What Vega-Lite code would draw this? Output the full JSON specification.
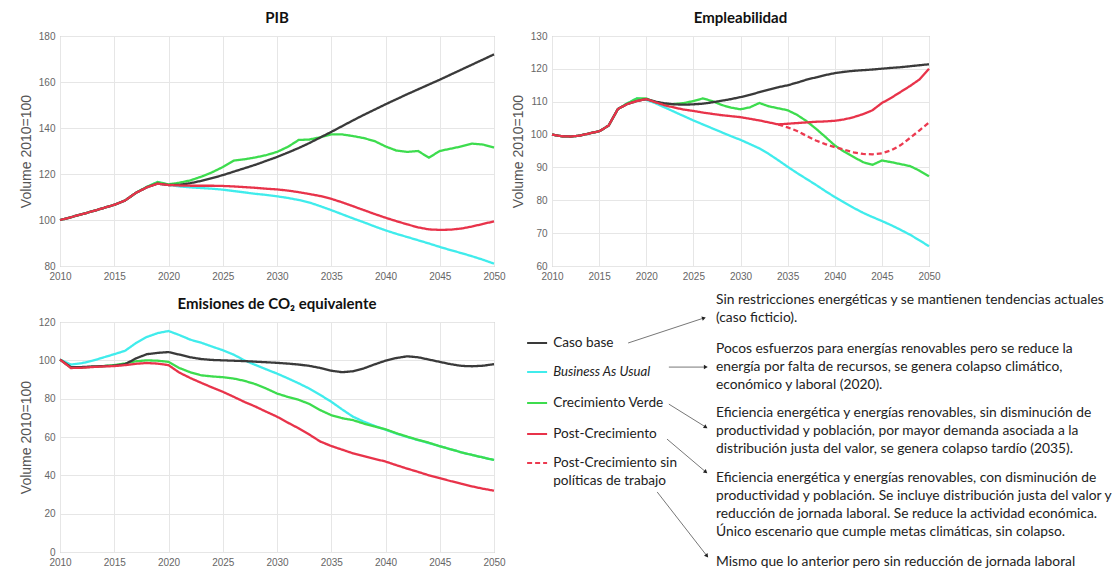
{
"$schema": "https://vega.github.io/schema/vega-lite/v6.json",
"autosize": {"type": "pad"},
"padding": {"left": 18, "top": 10, "right": 0, "bottom": 0},
"background": "white",
"config": {
  "view": {"stroke": "#a8a8a8"},
  "axis": {"grid": true, "gridColor": "#e6e6e6", "domain": false, "ticks": false, "labelFont": "Liberation Sans", "labelFontSize": 10, "labelColor": "#666", "titleFont": "Liberation Sans", "titleFontSize": 14, "titleFontWeight": "normal", "titleColor": "#555", "labelPadding": 5, "titlePadding": 5},
  "axisX": {"labelFlush": false},
  "title": {"font": "Lato", "fontSize": 15, "fontWeight": "bold", "color": "#111", "offset": 5}
},
"datasets": {
"pib": [
{"series":"Business As Usual","year":2010,"value":100},{"series":"Business As Usual","year":2011,"value":101.2},{"series":"Business As Usual","year":2012,"value":102.5},{"series":"Business As Usual","year":2013,"value":103.8},{"series":"Business As Usual","year":2014,"value":105.2},{"series":"Business As Usual","year":2015,"value":106.6},{"series":"Business As Usual","year":2016,"value":108.5},{"series":"Business As Usual","year":2017,"value":111.8},{"series":"Business As Usual","year":2018,"value":114.4},{"series":"Business As Usual","year":2019,"value":116.5},{"series":"Business As Usual","year":2020,"value":115.3},{"series":"Business As Usual","year":2021,"value":114.6},{"series":"Business As Usual","year":2022,"value":114.2},{"series":"Business As Usual","year":2023,"value":113.9},{"series":"Business As Usual","year":2024,"value":113.6},{"series":"Business As Usual","year":2025,"value":113.2},{"series":"Business As Usual","year":2026,"value":112.6},{"series":"Business As Usual","year":2027,"value":112.0},{"series":"Business As Usual","year":2028,"value":111.4},{"series":"Business As Usual","year":2029,"value":110.9},{"series":"Business As Usual","year":2030,"value":110.3},{"series":"Business As Usual","year":2031,"value":109.6},{"series":"Business As Usual","year":2032,"value":108.7},{"series":"Business As Usual","year":2033,"value":107.6},{"series":"Business As Usual","year":2034,"value":106.0},{"series":"Business As Usual","year":2035,"value":104.3},{"series":"Business As Usual","year":2036,"value":102.5},{"series":"Business As Usual","year":2037,"value":100.7},{"series":"Business As Usual","year":2038,"value":99.0},{"series":"Business As Usual","year":2039,"value":97.2},{"series":"Business As Usual","year":2040,"value":95.5},{"series":"Business As Usual","year":2041,"value":94.0},{"series":"Business As Usual","year":2042,"value":92.6},{"series":"Business As Usual","year":2043,"value":91.2},{"series":"Business As Usual","year":2044,"value":89.8},{"series":"Business As Usual","year":2045,"value":88.3},{"series":"Business As Usual","year":2046,"value":86.9},{"series":"Business As Usual","year":2047,"value":85.6},{"series":"Business As Usual","year":2048,"value":84.2},{"series":"Business As Usual","year":2049,"value":82.7},{"series":"Business As Usual","year":2050,"value":81.0},
{"series":"Crecimiento Verde","year":2010,"value":100},{"series":"Crecimiento Verde","year":2011,"value":101.2},{"series":"Crecimiento Verde","year":2012,"value":102.5},{"series":"Crecimiento Verde","year":2013,"value":103.8},{"series":"Crecimiento Verde","year":2014,"value":105.2},{"series":"Crecimiento Verde","year":2015,"value":106.6},{"series":"Crecimiento Verde","year":2016,"value":108.5},{"series":"Crecimiento Verde","year":2017,"value":111.8},{"series":"Crecimiento Verde","year":2018,"value":114.4},{"series":"Crecimiento Verde","year":2019,"value":116.5},{"series":"Crecimiento Verde","year":2020,"value":115.5},{"series":"Crecimiento Verde","year":2021,"value":116.2},{"series":"Crecimiento Verde","year":2022,"value":117.2},{"series":"Crecimiento Verde","year":2023,"value":118.8},{"series":"Crecimiento Verde","year":2024,"value":120.7},{"series":"Crecimiento Verde","year":2025,"value":123.0},{"series":"Crecimiento Verde","year":2026,"value":125.8},{"series":"Crecimiento Verde","year":2027,"value":126.4},{"series":"Crecimiento Verde","year":2028,"value":127.2},{"series":"Crecimiento Verde","year":2029,"value":128.2},{"series":"Crecimiento Verde","year":2030,"value":129.6},{"series":"Crecimiento Verde","year":2031,"value":131.8},{"series":"Crecimiento Verde","year":2032,"value":134.8},{"series":"Crecimiento Verde","year":2033,"value":135.0},{"series":"Crecimiento Verde","year":2034,"value":136.0},{"series":"Crecimiento Verde","year":2035,"value":137.2},{"series":"Crecimiento Verde","year":2036,"value":137.2},{"series":"Crecimiento Verde","year":2037,"value":136.5},{"series":"Crecimiento Verde","year":2038,"value":135.6},{"series":"Crecimiento Verde","year":2039,"value":134.3},{"series":"Crecimiento Verde","year":2040,"value":132.0},{"series":"Crecimiento Verde","year":2041,"value":130.2},{"series":"Crecimiento Verde","year":2042,"value":129.6},{"series":"Crecimiento Verde","year":2043,"value":130.0},{"series":"Crecimiento Verde","year":2044,"value":127.1},{"series":"Crecimiento Verde","year":2045,"value":130.0},{"series":"Crecimiento Verde","year":2046,"value":131.0},{"series":"Crecimiento Verde","year":2047,"value":132.0},{"series":"Crecimiento Verde","year":2048,"value":133.2},{"series":"Crecimiento Verde","year":2049,"value":132.8},{"series":"Crecimiento Verde","year":2050,"value":131.5},
{"series":"Caso base","year":2010,"value":100},{"series":"Caso base","year":2011,"value":101.2},{"series":"Caso base","year":2012,"value":102.5},{"series":"Caso base","year":2013,"value":103.8},{"series":"Caso base","year":2014,"value":105.2},{"series":"Caso base","year":2015,"value":106.6},{"series":"Caso base","year":2016,"value":108.5},{"series":"Caso base","year":2017,"value":111.8},{"series":"Caso base","year":2018,"value":114.2},{"series":"Caso base","year":2019,"value":115.8},{"series":"Caso base","year":2020,"value":115.2},{"series":"Caso base","year":2021,"value":115.3},{"series":"Caso base","year":2022,"value":116.0},{"series":"Caso base","year":2023,"value":117.0},{"series":"Caso base","year":2024,"value":118.2},{"series":"Caso base","year":2025,"value":119.5},{"series":"Caso base","year":2026,"value":121.0},{"series":"Caso base","year":2027,"value":122.5},{"series":"Caso base","year":2028,"value":124.0},{"series":"Caso base","year":2029,"value":125.7},{"series":"Caso base","year":2030,"value":127.4},{"series":"Caso base","year":2031,"value":129.3},{"series":"Caso base","year":2032,"value":131.3},{"series":"Caso base","year":2033,"value":133.5},{"series":"Caso base","year":2034,"value":135.9},{"series":"Caso base","year":2035,"value":138.3},{"series":"Caso base","year":2036,"value":140.8},{"series":"Caso base","year":2037,"value":143.3},{"series":"Caso base","year":2038,"value":145.7},{"series":"Caso base","year":2039,"value":148.0},{"series":"Caso base","year":2040,"value":150.3},{"series":"Caso base","year":2041,"value":152.5},{"series":"Caso base","year":2042,"value":154.7},{"series":"Caso base","year":2043,"value":156.8},{"series":"Caso base","year":2044,"value":158.9},{"series":"Caso base","year":2045,"value":161.0},{"series":"Caso base","year":2046,"value":163.2},{"series":"Caso base","year":2047,"value":165.4},{"series":"Caso base","year":2048,"value":167.6},{"series":"Caso base","year":2049,"value":169.8},{"series":"Caso base","year":2050,"value":172.0},
{"series":"Post-Crecimiento","year":2010,"value":100},{"series":"Post-Crecimiento","year":2011,"value":101.2},{"series":"Post-Crecimiento","year":2012,"value":102.5},{"series":"Post-Crecimiento","year":2013,"value":103.8},{"series":"Post-Crecimiento","year":2014,"value":105.2},{"series":"Post-Crecimiento","year":2015,"value":106.6},{"series":"Post-Crecimiento","year":2016,"value":108.5},{"series":"Post-Crecimiento","year":2017,"value":111.8},{"series":"Post-Crecimiento","year":2018,"value":114.2},{"series":"Post-Crecimiento","year":2019,"value":115.8},{"series":"Post-Crecimiento","year":2020,"value":115.2},{"series":"Post-Crecimiento","year":2021,"value":115.0},{"series":"Post-Crecimiento","year":2022,"value":114.9},{"series":"Post-Crecimiento","year":2023,"value":114.9},{"series":"Post-Crecimiento","year":2024,"value":114.9},{"series":"Post-Crecimiento","year":2025,"value":114.8},{"series":"Post-Crecimiento","year":2026,"value":114.6},{"series":"Post-Crecimiento","year":2027,"value":114.3},{"series":"Post-Crecimiento","year":2028,"value":114.0},{"series":"Post-Crecimiento","year":2029,"value":113.6},{"series":"Post-Crecimiento","year":2030,"value":113.3},{"series":"Post-Crecimiento","year":2031,"value":112.8},{"series":"Post-Crecimiento","year":2032,"value":112.1},{"series":"Post-Crecimiento","year":2033,"value":111.3},{"series":"Post-Crecimiento","year":2034,"value":110.4},{"series":"Post-Crecimiento","year":2035,"value":109.2},{"series":"Post-Crecimiento","year":2036,"value":107.7},{"series":"Post-Crecimiento","year":2037,"value":106.0},{"series":"Post-Crecimiento","year":2038,"value":104.3},{"series":"Post-Crecimiento","year":2039,"value":102.6},{"series":"Post-Crecimiento","year":2040,"value":101.0},{"series":"Post-Crecimiento","year":2041,"value":99.5},{"series":"Post-Crecimiento","year":2042,"value":98.1},{"series":"Post-Crecimiento","year":2043,"value":96.8},{"series":"Post-Crecimiento","year":2044,"value":95.9},{"series":"Post-Crecimiento","year":2045,"value":95.7},{"series":"Post-Crecimiento","year":2046,"value":95.8},{"series":"Post-Crecimiento","year":2047,"value":96.3},{"series":"Post-Crecimiento","year":2048,"value":97.2},{"series":"Post-Crecimiento","year":2049,"value":98.3},{"series":"Post-Crecimiento","year":2050,"value":99.4}
],
"emp": [
{"series":"Business As Usual","year":2010,"value":100},{"series":"Business As Usual","year":2011,"value":99.5},{"series":"Business As Usual","year":2012,"value":99.4},{"series":"Business As Usual","year":2013,"value":99.7},{"series":"Business As Usual","year":2014,"value":100.4},{"series":"Business As Usual","year":2015,"value":101.0},{"series":"Business As Usual","year":2016,"value":102.7},{"series":"Business As Usual","year":2017,"value":107.8},{"series":"Business As Usual","year":2018,"value":109.5},{"series":"Business As Usual","year":2019,"value":111.0},{"series":"Business As Usual","year":2020,"value":110.6},{"series":"Business As Usual","year":2021,"value":109.5},{"series":"Business As Usual","year":2022,"value":108.2},{"series":"Business As Usual","year":2023,"value":106.9},{"series":"Business As Usual","year":2024,"value":105.6},{"series":"Business As Usual","year":2025,"value":104.3},{"series":"Business As Usual","year":2026,"value":103.1},{"series":"Business As Usual","year":2027,"value":101.9},{"series":"Business As Usual","year":2028,"value":100.7},{"series":"Business As Usual","year":2029,"value":99.5},{"series":"Business As Usual","year":2030,"value":98.4},{"series":"Business As Usual","year":2031,"value":97.1},{"series":"Business As Usual","year":2032,"value":95.8},{"series":"Business As Usual","year":2033,"value":94.1},{"series":"Business As Usual","year":2034,"value":92.2},{"series":"Business As Usual","year":2035,"value":90.2},{"series":"Business As Usual","year":2036,"value":88.3},{"series":"Business As Usual","year":2037,"value":86.5},{"series":"Business As Usual","year":2038,"value":84.7},{"series":"Business As Usual","year":2039,"value":82.8},{"series":"Business As Usual","year":2040,"value":81.0},{"series":"Business As Usual","year":2041,"value":79.3},{"series":"Business As Usual","year":2042,"value":77.7},{"series":"Business As Usual","year":2043,"value":76.2},{"series":"Business As Usual","year":2044,"value":74.9},{"series":"Business As Usual","year":2045,"value":73.7},{"series":"Business As Usual","year":2046,"value":72.4},{"series":"Business As Usual","year":2047,"value":71.0},{"series":"Business As Usual","year":2048,"value":69.5},{"series":"Business As Usual","year":2049,"value":67.8},{"series":"Business As Usual","year":2050,"value":66.0},
{"series":"Crecimiento Verde","year":2010,"value":100},{"series":"Crecimiento Verde","year":2011,"value":99.5},{"series":"Crecimiento Verde","year":2012,"value":99.4},{"series":"Crecimiento Verde","year":2013,"value":99.7},{"series":"Crecimiento Verde","year":2014,"value":100.4},{"series":"Crecimiento Verde","year":2015,"value":101.0},{"series":"Crecimiento Verde","year":2016,"value":102.7},{"series":"Crecimiento Verde","year":2017,"value":107.8},{"series":"Crecimiento Verde","year":2018,"value":109.5},{"series":"Crecimiento Verde","year":2019,"value":111.0},{"series":"Crecimiento Verde","year":2020,"value":111.0},{"series":"Crecimiento Verde","year":2021,"value":109.8},{"series":"Crecimiento Verde","year":2022,"value":109.2},{"series":"Crecimiento Verde","year":2023,"value":109.3},{"series":"Crecimiento Verde","year":2024,"value":109.6},{"series":"Crecimiento Verde","year":2025,"value":110.2},{"series":"Crecimiento Verde","year":2026,"value":111.0},{"series":"Crecimiento Verde","year":2027,"value":110.2},{"series":"Crecimiento Verde","year":2028,"value":109.0},{"series":"Crecimiento Verde","year":2029,"value":108.2},{"series":"Crecimiento Verde","year":2030,"value":107.7},{"series":"Crecimiento Verde","year":2031,"value":108.3},{"series":"Crecimiento Verde","year":2032,"value":109.6},{"series":"Crecimiento Verde","year":2033,"value":108.6},{"series":"Crecimiento Verde","year":2034,"value":108.0},{"series":"Crecimiento Verde","year":2035,"value":107.4},{"series":"Crecimiento Verde","year":2036,"value":106.0},{"series":"Crecimiento Verde","year":2037,"value":104.1},{"series":"Crecimiento Verde","year":2038,"value":101.8},{"series":"Crecimiento Verde","year":2039,"value":99.3},{"series":"Crecimiento Verde","year":2040,"value":96.7},{"series":"Crecimiento Verde","year":2041,"value":94.8},{"series":"Crecimiento Verde","year":2042,"value":93.2},{"series":"Crecimiento Verde","year":2043,"value":91.6},{"series":"Crecimiento Verde","year":2044,"value":90.8},{"series":"Crecimiento Verde","year":2045,"value":92.1},{"series":"Crecimiento Verde","year":2046,"value":91.6},{"series":"Crecimiento Verde","year":2047,"value":91.0},{"series":"Crecimiento Verde","year":2048,"value":90.4},{"series":"Crecimiento Verde","year":2049,"value":89.0},{"series":"Crecimiento Verde","year":2050,"value":87.3},
{"series":"Caso base","year":2010,"value":100},{"series":"Caso base","year":2011,"value":99.5},{"series":"Caso base","year":2012,"value":99.4},{"series":"Caso base","year":2013,"value":99.7},{"series":"Caso base","year":2014,"value":100.4},{"series":"Caso base","year":2015,"value":101.0},{"series":"Caso base","year":2016,"value":102.7},{"series":"Caso base","year":2017,"value":107.8},{"series":"Caso base","year":2018,"value":109.3},{"series":"Caso base","year":2019,"value":110.2},{"series":"Caso base","year":2020,"value":110.8},{"series":"Caso base","year":2021,"value":110.0},{"series":"Caso base","year":2022,"value":109.5},{"series":"Caso base","year":2023,"value":109.2},{"series":"Caso base","year":2024,"value":109.1},{"series":"Caso base","year":2025,"value":109.2},{"series":"Caso base","year":2026,"value":109.4},{"series":"Caso base","year":2027,"value":109.8},{"series":"Caso base","year":2028,"value":110.3},{"series":"Caso base","year":2029,"value":110.8},{"series":"Caso base","year":2030,"value":111.4},{"series":"Caso base","year":2031,"value":112.1},{"series":"Caso base","year":2032,"value":112.9},{"series":"Caso base","year":2033,"value":113.7},{"series":"Caso base","year":2034,"value":114.4},{"series":"Caso base","year":2035,"value":115.0},{"series":"Caso base","year":2036,"value":115.8},{"series":"Caso base","year":2037,"value":116.7},{"series":"Caso base","year":2038,"value":117.4},{"series":"Caso base","year":2039,"value":118.1},{"series":"Caso base","year":2040,"value":118.7},{"series":"Caso base","year":2041,"value":119.1},{"series":"Caso base","year":2042,"value":119.4},{"series":"Caso base","year":2043,"value":119.6},{"series":"Caso base","year":2044,"value":119.8},{"series":"Caso base","year":2045,"value":120.05},{"series":"Caso base","year":2046,"value":120.3},{"series":"Caso base","year":2047,"value":120.5},{"series":"Caso base","year":2048,"value":120.8},{"series":"Caso base","year":2049,"value":121.1},{"series":"Caso base","year":2050,"value":121.4},
{"series":"Post-Crecimiento sin políticas","year":2034,"value":103.1},{"series":"Post-Crecimiento sin políticas","year":2035,"value":102.2},{"series":"Post-Crecimiento sin políticas","year":2036,"value":101.1},{"series":"Post-Crecimiento sin políticas","year":2037,"value":99.6},{"series":"Post-Crecimiento sin políticas","year":2038,"value":98.2},{"series":"Post-Crecimiento sin políticas","year":2039,"value":97.1},{"series":"Post-Crecimiento sin políticas","year":2040,"value":96.2},{"series":"Post-Crecimiento sin políticas","year":2041,"value":95.4},{"series":"Post-Crecimiento sin políticas","year":2042,"value":94.6},{"series":"Post-Crecimiento sin políticas","year":2043,"value":94.1},{"series":"Post-Crecimiento sin políticas","year":2044,"value":94.0},{"series":"Post-Crecimiento sin políticas","year":2045,"value":94.3},{"series":"Post-Crecimiento sin políticas","year":2046,"value":95.2},{"series":"Post-Crecimiento sin políticas","year":2047,"value":96.8},{"series":"Post-Crecimiento sin políticas","year":2048,"value":99.0},{"series":"Post-Crecimiento sin políticas","year":2049,"value":101.3},{"series":"Post-Crecimiento sin políticas","year":2050,"value":103.7},
{"series":"Post-Crecimiento","year":2010,"value":100},{"series":"Post-Crecimiento","year":2011,"value":99.5},{"series":"Post-Crecimiento","year":2012,"value":99.4},{"series":"Post-Crecimiento","year":2013,"value":99.7},{"series":"Post-Crecimiento","year":2014,"value":100.4},{"series":"Post-Crecimiento","year":2015,"value":101.0},{"series":"Post-Crecimiento","year":2016,"value":102.7},{"series":"Post-Crecimiento","year":2017,"value":107.8},{"series":"Post-Crecimiento","year":2018,"value":109.3},{"series":"Post-Crecimiento","year":2019,"value":110.2},{"series":"Post-Crecimiento","year":2020,"value":110.8},{"series":"Post-Crecimiento","year":2021,"value":109.8},{"series":"Post-Crecimiento","year":2022,"value":108.9},{"series":"Post-Crecimiento","year":2023,"value":108.2},{"series":"Post-Crecimiento","year":2024,"value":107.6},{"series":"Post-Crecimiento","year":2025,"value":107.2},{"series":"Post-Crecimiento","year":2026,"value":106.7},{"series":"Post-Crecimiento","year":2027,"value":106.3},{"series":"Post-Crecimiento","year":2028,"value":105.9},{"series":"Post-Crecimiento","year":2029,"value":105.6},{"series":"Post-Crecimiento","year":2030,"value":105.3},{"series":"Post-Crecimiento","year":2031,"value":104.8},{"series":"Post-Crecimiento","year":2032,"value":104.3},{"series":"Post-Crecimiento","year":2033,"value":103.7},{"series":"Post-Crecimiento","year":2034,"value":103.1},{"series":"Post-Crecimiento","year":2035,"value":103.3},{"series":"Post-Crecimiento","year":2036,"value":103.5},{"series":"Post-Crecimiento","year":2037,"value":103.7},{"series":"Post-Crecimiento","year":2038,"value":103.9},{"series":"Post-Crecimiento","year":2039,"value":104.0},{"series":"Post-Crecimiento","year":2040,"value":104.2},{"series":"Post-Crecimiento","year":2041,"value":104.6},{"series":"Post-Crecimiento","year":2042,"value":105.3},{"series":"Post-Crecimiento","year":2043,"value":106.2},{"series":"Post-Crecimiento","year":2044,"value":107.4},{"series":"Post-Crecimiento","year":2045,"value":109.6},{"series":"Post-Crecimiento","year":2046,"value":111.2},{"series":"Post-Crecimiento","year":2047,"value":113.0},{"series":"Post-Crecimiento","year":2048,"value":114.8},{"series":"Post-Crecimiento","year":2049,"value":116.8},{"series":"Post-Crecimiento","year":2050,"value":120.0}
],
"co2": [
{"series":"Business As Usual","year":2010,"value":100.4},{"series":"Business As Usual","year":2011,"value":97.8},{"series":"Business As Usual","year":2012,"value":98.5},{"series":"Business As Usual","year":2013,"value":99.8},{"series":"Business As Usual","year":2014,"value":101.5},{"series":"Business As Usual","year":2015,"value":103.2},{"series":"Business As Usual","year":2016,"value":105.0},{"series":"Business As Usual","year":2017,"value":109.0},{"series":"Business As Usual","year":2018,"value":112.2},{"series":"Business As Usual","year":2019,"value":114.2},{"series":"Business As Usual","year":2020,"value":115.3},{"series":"Business As Usual","year":2021,"value":113.2},{"series":"Business As Usual","year":2022,"value":110.8},{"series":"Business As Usual","year":2023,"value":109.2},{"series":"Business As Usual","year":2024,"value":107.2},{"series":"Business As Usual","year":2025,"value":105.3},{"series":"Business As Usual","year":2026,"value":103.0},{"series":"Business As Usual","year":2027,"value":100.0},{"series":"Business As Usual","year":2028,"value":97.6},{"series":"Business As Usual","year":2029,"value":95.3},{"series":"Business As Usual","year":2030,"value":93.1},{"series":"Business As Usual","year":2031,"value":90.6},{"series":"Business As Usual","year":2032,"value":88.0},{"series":"Business As Usual","year":2033,"value":85.2},{"series":"Business As Usual","year":2034,"value":81.9},{"series":"Business As Usual","year":2035,"value":78.4},{"series":"Business As Usual","year":2036,"value":74.4},{"series":"Business As Usual","year":2037,"value":70.6},{"series":"Business As Usual","year":2038,"value":68.0},{"series":"Business As Usual","year":2039,"value":65.8},{"series":"Business As Usual","year":2040,"value":63.8},{"series":"Business As Usual","year":2041,"value":61.8},{"series":"Business As Usual","year":2042,"value":60.0},{"series":"Business As Usual","year":2043,"value":58.4},{"series":"Business As Usual","year":2044,"value":56.8},{"series":"Business As Usual","year":2045,"value":55.2},{"series":"Business As Usual","year":2046,"value":53.6},{"series":"Business As Usual","year":2047,"value":52.0},{"series":"Business As Usual","year":2048,"value":50.6},{"series":"Business As Usual","year":2049,"value":49.3},{"series":"Business As Usual","year":2050,"value":48.0},
{"series":"Crecimiento Verde","year":2010,"value":100.4},{"series":"Crecimiento Verde","year":2011,"value":96.2},{"series":"Crecimiento Verde","year":2012,"value":96.3},{"series":"Crecimiento Verde","year":2013,"value":96.6},{"series":"Crecimiento Verde","year":2014,"value":97.0},{"series":"Crecimiento Verde","year":2015,"value":97.5},{"series":"Crecimiento Verde","year":2016,"value":98.4},{"series":"Crecimiento Verde","year":2017,"value":99.5},{"series":"Crecimiento Verde","year":2018,"value":100.0},{"series":"Crecimiento Verde","year":2019,"value":99.8},{"series":"Crecimiento Verde","year":2020,"value":99.2},{"series":"Crecimiento Verde","year":2021,"value":96.0},{"series":"Crecimiento Verde","year":2022,"value":93.8},{"series":"Crecimiento Verde","year":2023,"value":92.2},{"series":"Crecimiento Verde","year":2024,"value":91.6},{"series":"Crecimiento Verde","year":2025,"value":91.2},{"series":"Crecimiento Verde","year":2026,"value":90.5},{"series":"Crecimiento Verde","year":2027,"value":89.3},{"series":"Crecimiento Verde","year":2028,"value":87.6},{"series":"Crecimiento Verde","year":2029,"value":85.3},{"series":"Crecimiento Verde","year":2030,"value":82.7},{"series":"Crecimiento Verde","year":2031,"value":80.9},{"series":"Crecimiento Verde","year":2032,"value":79.4},{"series":"Crecimiento Verde","year":2033,"value":77.2},{"series":"Crecimiento Verde","year":2034,"value":74.0},{"series":"Crecimiento Verde","year":2035,"value":71.4},{"series":"Crecimiento Verde","year":2036,"value":69.8},{"series":"Crecimiento Verde","year":2037,"value":68.8},{"series":"Crecimiento Verde","year":2038,"value":67.0},{"series":"Crecimiento Verde","year":2039,"value":65.5},{"series":"Crecimiento Verde","year":2040,"value":64.0},{"series":"Crecimiento Verde","year":2041,"value":62.0},{"series":"Crecimiento Verde","year":2042,"value":60.2},{"series":"Crecimiento Verde","year":2043,"value":58.5},{"series":"Crecimiento Verde","year":2044,"value":57.0},{"series":"Crecimiento Verde","year":2045,"value":55.2},{"series":"Crecimiento Verde","year":2046,"value":53.6},{"series":"Crecimiento Verde","year":2047,"value":52.0},{"series":"Crecimiento Verde","year":2048,"value":50.6},{"series":"Crecimiento Verde","year":2049,"value":49.3},{"series":"Crecimiento Verde","year":2050,"value":48.0},
{"series":"Caso base","year":2010,"value":100.4},{"series":"Caso base","year":2011,"value":96.5},{"series":"Caso base","year":2012,"value":96.5},{"series":"Caso base","year":2013,"value":96.8},{"series":"Caso base","year":2014,"value":97.0},{"series":"Caso base","year":2015,"value":97.2},{"series":"Caso base","year":2016,"value":98.0},{"series":"Caso base","year":2017,"value":101.0},{"series":"Caso base","year":2018,"value":103.2},{"series":"Caso base","year":2019,"value":103.9},{"series":"Caso base","year":2020,"value":104.3},{"series":"Caso base","year":2021,"value":103.0},{"series":"Caso base","year":2022,"value":101.6},{"series":"Caso base","year":2023,"value":100.7},{"series":"Caso base","year":2024,"value":100.2},{"series":"Caso base","year":2025,"value":100.0},{"series":"Caso base","year":2026,"value":99.8},{"series":"Caso base","year":2027,"value":99.6},{"series":"Caso base","year":2028,"value":99.3},{"series":"Caso base","year":2029,"value":99.0},{"series":"Caso base","year":2030,"value":98.7},{"series":"Caso base","year":2031,"value":98.3},{"series":"Caso base","year":2032,"value":97.8},{"series":"Caso base","year":2033,"value":97.1},{"series":"Caso base","year":2034,"value":96.0},{"series":"Caso base","year":2035,"value":94.6},{"series":"Caso base","year":2036,"value":93.8},{"series":"Caso base","year":2037,"value":94.3},{"series":"Caso base","year":2038,"value":95.8},{"series":"Caso base","year":2039,"value":97.9},{"series":"Caso base","year":2040,"value":99.8},{"series":"Caso base","year":2041,"value":101.2},{"series":"Caso base","year":2042,"value":102.1},{"series":"Caso base","year":2043,"value":101.6},{"series":"Caso base","year":2044,"value":100.4},{"series":"Caso base","year":2045,"value":99.2},{"series":"Caso base","year":2046,"value":98.0},{"series":"Caso base","year":2047,"value":97.1},{"series":"Caso base","year":2048,"value":96.9},{"series":"Caso base","year":2049,"value":97.2},{"series":"Caso base","year":2050,"value":98.0},
{"series":"Post-Crecimiento","year":2010,"value":100.4},{"series":"Post-Crecimiento","year":2011,"value":96.0},{"series":"Post-Crecimiento","year":2012,"value":96.1},{"series":"Post-Crecimiento","year":2013,"value":96.5},{"series":"Post-Crecimiento","year":2014,"value":96.8},{"series":"Post-Crecimiento","year":2015,"value":97.0},{"series":"Post-Crecimiento","year":2016,"value":97.5},{"series":"Post-Crecimiento","year":2017,"value":98.2},{"series":"Post-Crecimiento","year":2018,"value":98.6},{"series":"Post-Crecimiento","year":2019,"value":98.3},{"series":"Post-Crecimiento","year":2020,"value":97.5},{"series":"Post-Crecimiento","year":2021,"value":93.6},{"series":"Post-Crecimiento","year":2022,"value":90.8},{"series":"Post-Crecimiento","year":2023,"value":88.3},{"series":"Post-Crecimiento","year":2024,"value":85.9},{"series":"Post-Crecimiento","year":2025,"value":83.6},{"series":"Post-Crecimiento","year":2026,"value":81.0},{"series":"Post-Crecimiento","year":2027,"value":78.3},{"series":"Post-Crecimiento","year":2028,"value":75.9},{"series":"Post-Crecimiento","year":2029,"value":73.2},{"series":"Post-Crecimiento","year":2030,"value":70.6},{"series":"Post-Crecimiento","year":2031,"value":67.5},{"series":"Post-Crecimiento","year":2032,"value":64.5},{"series":"Post-Crecimiento","year":2033,"value":61.2},{"series":"Post-Crecimiento","year":2034,"value":57.6},{"series":"Post-Crecimiento","year":2035,"value":55.3},{"series":"Post-Crecimiento","year":2036,"value":53.4},{"series":"Post-Crecimiento","year":2037,"value":51.5},{"series":"Post-Crecimiento","year":2038,"value":50.0},{"series":"Post-Crecimiento","year":2039,"value":48.6},{"series":"Post-Crecimiento","year":2040,"value":47.2},{"series":"Post-Crecimiento","year":2041,"value":45.3},{"series":"Post-Crecimiento","year":2042,"value":43.5},{"series":"Post-Crecimiento","year":2043,"value":41.8},{"series":"Post-Crecimiento","year":2044,"value":40.0},{"series":"Post-Crecimiento","year":2045,"value":38.5},{"series":"Post-Crecimiento","year":2046,"value":37.0},{"series":"Post-Crecimiento","year":2047,"value":35.6},{"series":"Post-Crecimiento","year":2048,"value":34.2},{"series":"Post-Crecimiento","year":2049,"value":33.0},{"series":"Post-Crecimiento","year":2050,"value":32.0}
]
},
"concat": [
{
  "width": 434, "height": 230,
  "title": "PIB",
  "data": {"name": "pib"},
  "mark": {"type": "line"},
  "encoding": {
    "x": {"field": "year", "type": "quantitative", "scale": {"domain": [2010, 2050], "nice": false, "zero": false}, "axis": {"values": [2010,2015,2020,2025,2030,2035,2040,2045,2050], "format": "d", "title": null}},
    "y": {"field": "value", "type": "quantitative", "scale": {"domain": [80, 180], "nice": false, "zero": false}, "axis": {"values": [80,100,120,140,160,180], "title": "Volume 2010=100"}},
    "color": {"field": "series", "type": "nominal", "legend": null, "scale": {"domain": ["Business As Usual","Crecimiento Verde","Caso base","Post-Crecimiento sin políticas","Post-Crecimiento"], "range": ["#40ecec","#3ddc4e","#3a3a3a","#ec3a50","#e8334a"]}},
    "strokeDash": {"field": "series", "type": "nominal", "legend": null, "scale": {"domain": ["Business As Usual","Crecimiento Verde","Caso base","Post-Crecimiento sin políticas","Post-Crecimiento"], "range": [[1,0],[1,0],[1,0],[5,3],[1,0]]}},
    "strokeWidth": {"field": "series", "type": "nominal", "legend": null, "scale": {"domain": ["Business As Usual","Crecimiento Verde","Caso base","Post-Crecimiento sin políticas","Post-Crecimiento"], "range": [2.3,2.3,1.5,1.8,1.8]}}
  }
},
{
  "width": 377, "height": 230,
  "title": "Empleabilidad",
  "data": {"name": "emp"},
  "mark": {"type": "line"},
  "encoding": {
    "x": {"field": "year", "type": "quantitative", "scale": {"domain": [2010, 2050], "nice": false, "zero": false}, "axis": {"values": [2010,2015,2020,2025,2030,2035,2040,2045,2050], "format": "d", "title": null}},
    "y": {"field": "value", "type": "quantitative", "scale": {"domain": [60, 130], "nice": false, "zero": false}, "axis": {"values": [60,70,80,90,100,110,120,130], "title": "Volume 2010=100"}},
    "color": {"field": "series", "type": "nominal", "legend": null, "scale": {"domain": ["Business As Usual","Crecimiento Verde","Caso base","Post-Crecimiento sin políticas","Post-Crecimiento"], "range": ["#40ecec","#3ddc4e","#3a3a3a","#ec3a50","#e8334a"]}},
    "strokeDash": {"field": "series", "type": "nominal", "legend": null, "scale": {"domain": ["Business As Usual","Crecimiento Verde","Caso base","Post-Crecimiento sin políticas","Post-Crecimiento"], "range": [[1,0],[1,0],[1,0],[5,3],[1,0]]}},
    "strokeWidth": {"field": "series", "type": "nominal", "legend": null, "scale": {"domain": ["Business As Usual","Crecimiento Verde","Caso base","Post-Crecimiento sin políticas","Post-Crecimiento"], "range": [2.3,2.3,1.5,1.8,1.8]}}
  }
},
{
  "width": 434, "height": 230,
  "title": "Emisiones de CO₂ equivalente",
  "data": {"name": "co2"},
  "mark": {"type": "line"},
  "encoding": {
    "x": {"field": "year", "type": "quantitative", "scale": {"domain": [2010, 2050], "nice": false, "zero": false}, "axis": {"values": [2010,2015,2020,2025,2030,2035,2040,2045,2050], "format": "d", "title": null}},
    "y": {"field": "value", "type": "quantitative", "scale": {"domain": [0, 120], "nice": false}, "axis": {"values": [0,20,40,60,80,100,120], "title": "Volume 2010=100"}},
    "color": {"field": "series", "type": "nominal", "legend": null, "scale": {"domain": ["Business As Usual","Crecimiento Verde","Caso base","Post-Crecimiento sin políticas","Post-Crecimiento"], "range": ["#40ecec","#3ddc4e","#3a3a3a","#ec3a50","#e8334a"]}},
    "strokeDash": {"field": "series", "type": "nominal", "legend": null, "scale": {"domain": ["Business As Usual","Crecimiento Verde","Caso base","Post-Crecimiento sin políticas","Post-Crecimiento"], "range": [[1,0],[1,0],[1,0],[5,3],[1,0]]}},
    "strokeWidth": {"field": "series", "type": "nominal", "legend": null, "scale": {"domain": ["Business As Usual","Crecimiento Verde","Caso base","Post-Crecimiento sin políticas","Post-Crecimiento"], "range": [2.3,2.3,1.5,1.8,1.8]}}
  }
},
{
  "width": 377, "height": 230,
  "view": {"stroke": null},
  "layer": [
    {
      "data": {"values": [
        {"series": "Caso base", "x": -6.6, "x2": -1.3, "y": 9.13},
        {"series": "Business As Usual", "x": -6.6, "x2": -1.3, "y": 21.7},
        {"series": "Crecimiento Verde", "x": -6.6, "x2": -1.3, "y": 35.2},
        {"series": "Post-Crecimiento", "x": -6.6, "x2": -1.3, "y": 48.7},
        {"series": "Post-Crecimiento sin políticas", "x": -6.6, "x2": -1.3, "y": 61.3}
      ]},
      "mark": {"type": "rule"},
      "encoding": {
        "x": {"field": "x", "type": "quantitative", "scale": {"domain": [0, 100]}, "axis": null},
        "x2": {"field": "x2"},
        "y": {"field": "y", "type": "quantitative", "scale": {"domain": [0, 100], "reverse": true}, "axis": null},
        "color": {"field": "series", "type": "nominal", "legend": null, "scale": {"domain": ["Business As Usual","Crecimiento Verde","Caso base","Post-Crecimiento sin políticas","Post-Crecimiento"], "range": ["#40ecec","#3ddc4e","#3a3a3a","#ec3a50","#e8334a"]}},
        "strokeDash": {"field": "series", "type": "nominal", "legend": null, "scale": {"domain": ["Business As Usual","Crecimiento Verde","Caso base","Post-Crecimiento sin políticas","Post-Crecimiento"], "range": [[1,0],[1,0],[1,0],[4,2.5],[1,0]]}},
        "strokeWidth": {"value": 2}
      }
    },
    {
      "data": {"values": [
        {"label": "Caso base", "x": 0.3, "y": 9.13},
        {"label": "Crecimiento Verde", "x": 0.3, "y": 35.2},
        {"label": "Post-Crecimiento", "x": 0.3, "y": 48.7},
        {"label": "Post-Crecimiento sin", "x": 0.3, "y": 61.3},
        {"label": "políticas de trabajo", "x": 0.3, "y": 69.1}
      ]},
      "mark": {"type": "text", "align": "left", "baseline": "middle", "font": "Lato", "fontSize": 13.6, "color": "#222"},
      "encoding": {
        "x": {"field": "x", "type": "quantitative", "scale": {"domain": [0, 100]}, "axis": null},
        "y": {"field": "y", "type": "quantitative", "scale": {"domain": [0, 100], "reverse": true}, "axis": null},
        "text": {"field": "label"}
      }
    },
    {
      "data": {"values": [
        {"label": "Business As Usual", "x": 0.3, "y": 21.7}
      ]},
      "mark": {"type": "text", "align": "left", "baseline": "middle", "font": "Lato", "fontSize": 13.2, "fontStyle": "italic", "color": "#222"},
      "encoding": {
        "x": {"field": "x", "type": "quantitative", "scale": {"domain": [0, 100]}, "axis": null},
        "y": {"field": "y", "type": "quantitative", "scale": {"domain": [0, 100], "reverse": true}, "axis": null},
        "text": {"field": "label"}
      }
    },
    {
      "data": {"values": [
        {"line": "Sin restricciones energéticas y se mantienen tendencias actuales", "x": 43.5, "y": -9.57},
        {"line": "(caso ficticio).", "x": 43.5, "y": -1.74},
        {"line": "Pocos esfuerzos para energías renovables pero se reduce la", "x": 43.5, "y": 11.7},
        {"line": "energía por falta de recursos, se genera colapso climático,", "x": 43.5, "y": 19.6},
        {"line": "económico y laboral (2020).", "x": 43.5, "y": 27.4},
        {"line": "Eficiencia energética y energías renovables, sin disminución de", "x": 43.5, "y": 39.6},
        {"line": "productividad y población, por mayor demanda asociada a la", "x": 43.5, "y": 47.4},
        {"line": "distribución justa del valor, se genera colapso tardío (2035).", "x": 43.5, "y": 55.2},
        {"line": "Eficiencia energética y energías renovables, con disminución de", "x": 43.5, "y": 67.8},
        {"line": "productividad y población. Se incluye distribución justa del valor y", "x": 43.5, "y": 75.7},
        {"line": "reducción de jornada laboral. Se reduce la actividad económica.", "x": 43.5, "y": 83.5},
        {"line": "Único escenario que cumple metas climáticas, sin colapso.", "x": 43.5, "y": 91.3},
        {"line": "Mismo que lo anterior pero sin reducción de jornada laboral", "x": 43.5, "y": 104.3}
      ]},
      "mark": {"type": "text", "align": "left", "baseline": "middle", "font": "Lato", "fontSize": 13.8, "color": "#222"},
      "encoding": {
        "x": {"field": "x", "type": "quantitative", "scale": {"domain": [0, 100]}, "axis": null},
        "y": {"field": "y", "type": "quantitative", "scale": {"domain": [0, 100], "reverse": true}, "axis": null},
        "text": {"field": "line"}
      }
    },
    {
      "data": {"values": [
        {"x": 20.2, "y": 9.13, "x2": 40.3, "y2": -1.74},
        {"x": 31.0, "y": 19.6, "x2": 40.8, "y2": 19.6},
        {"x": 31.0, "y": 35.7, "x2": 40.8, "y2": 45.7},
        {"x": 30.5, "y": 50.9, "x2": 40.8, "y2": 65.2},
        {"x": 27.9, "y": 73.9, "x2": 41.1, "y2": 101.7}
      ]},
      "mark": {"type": "rule", "color": "#777", "strokeWidth": 1},
      "encoding": {
        "x": {"field": "x", "type": "quantitative", "scale": {"domain": [0, 100]}, "axis": null},
        "y": {"field": "y", "type": "quantitative", "scale": {"domain": [0, 100], "reverse": true}, "axis": null},
        "x2": {"field": "x2"},
        "y2": {"field": "y2"}
      }
    },
    {
      "data": {"values": [
        {"x": 40.3, "y": -1.74, "direction": 72},
        {"x": 40.8, "y": 19.6, "direction": 90},
        {"x": 40.8, "y": 45.7, "direction": 122},
        {"x": 40.8, "y": 65.2, "direction": 130},
        {"x": 41.1, "y": 101.7, "direction": 142}
      ]},
      "mark": {"type": "point", "shape": "triangle-up", "filled": true, "size": 20, "color": "#222", "opacity": 1},
      "encoding": {
        "x": {"field": "x", "type": "quantitative", "scale": {"domain": [0, 100]}, "axis": null},
        "y": {"field": "y", "type": "quantitative", "scale": {"domain": [0, 100], "reverse": true}, "axis": null},
        "angle": {"field": "direction", "type": "quantitative", "scale": null}
      }
    }
  ]
}
],
"columns": 2,
"spacing": {"row": 56, "column": 58},
"bounds": "flush"
}
